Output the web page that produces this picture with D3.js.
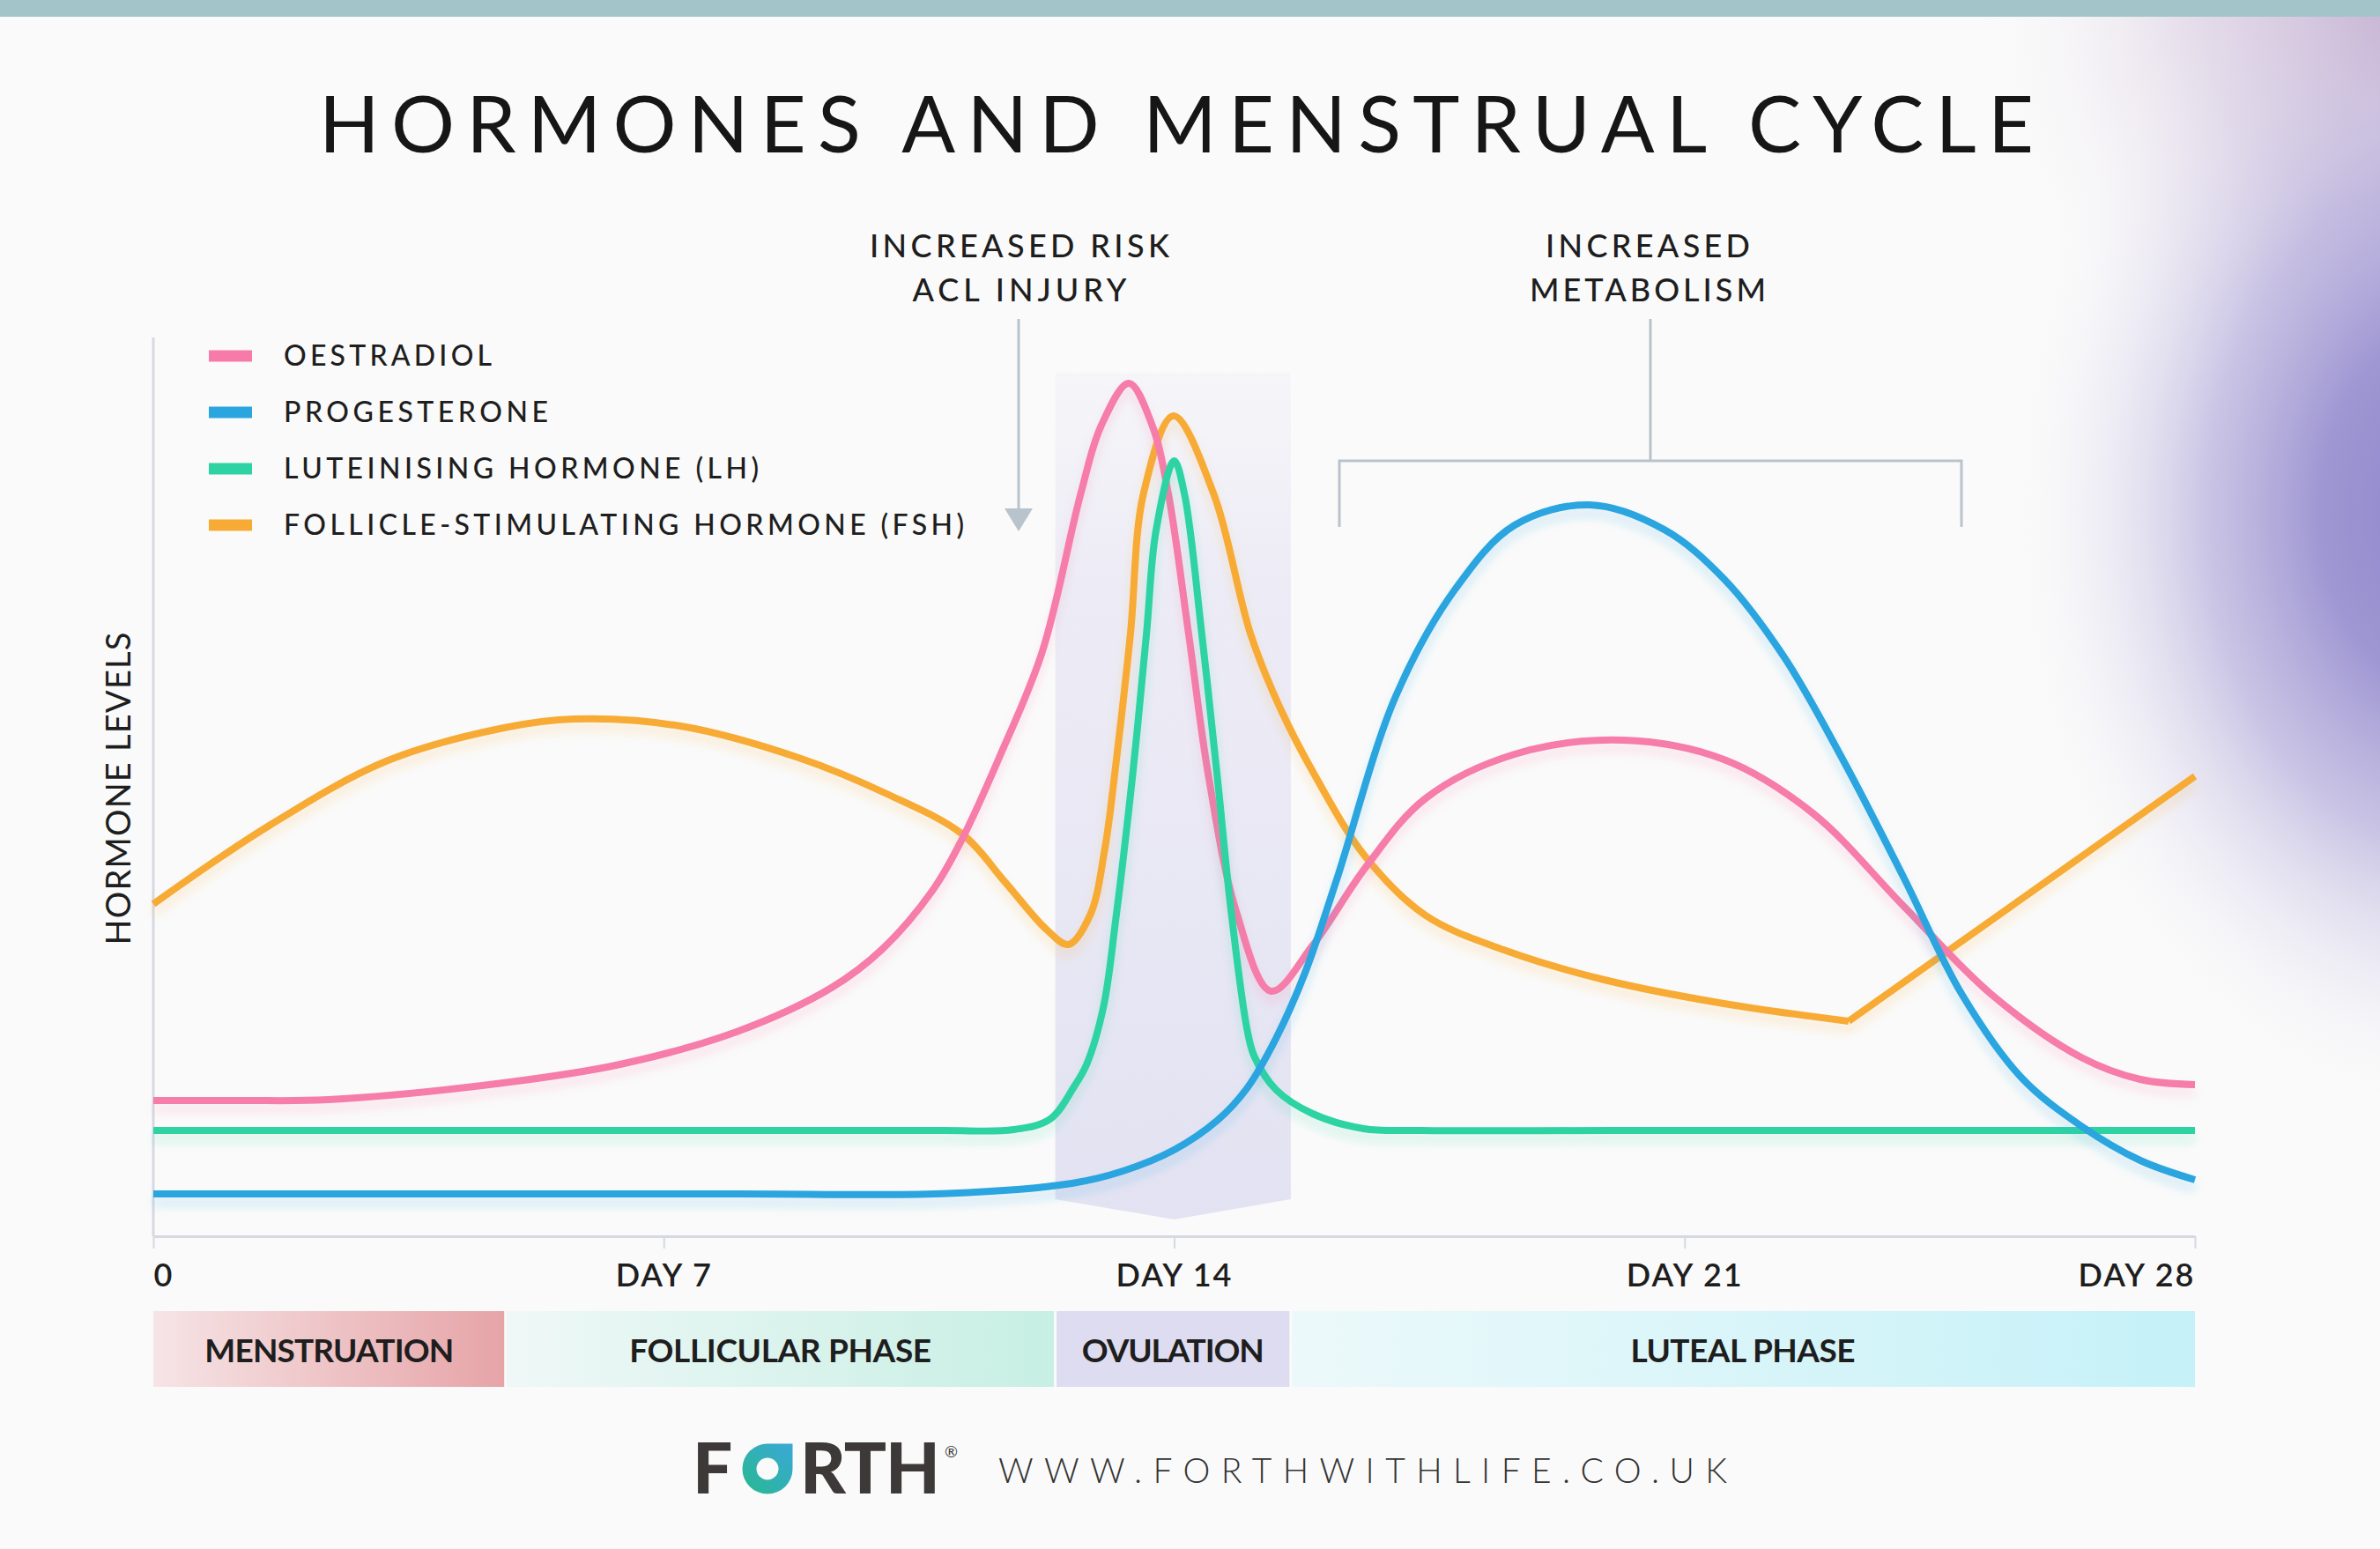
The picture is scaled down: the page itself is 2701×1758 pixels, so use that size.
<!DOCTYPE html>
<html>
<head>
<meta charset="utf-8">
<script src="https://cdn.jsdelivr.net/npm/d3@7"></script>
<style>
  html, body { margin: 0; padding: 0; background: #fafafa; }
  svg { display: block; font-family: Lato, "Open Sans", sans-serif; }
</style>
</head>
<body>
<script>
// hormone levels across a 28 day cycle (arbitrary units, 0-100)

var width = 2701;
var height = 1758;

var tickDays = [0, 7, 14, 21, 28];
var tickLabels = ['0', 'DAY 7', 'DAY 14', 'DAY 21', 'DAY 28'];

var hormones = ['OESTRADIOL', 'PROGESTERONE', 'LUTEINISING HORMONE (LH)', 'FOLLICLE-STIMULATING HORMONE (FSH)'];
var colors = ['#f67ba9', '#2aa5df', '#2ed3a3', '#f7ab35'];

// [day, level]
var oestradiol = [[0, 15.4], [1.2, 15.4], [2.4, 15.5], [4.8, 17.4], [6.4, 19.5], [8, 23.2], [9.3, 28.2],
  [10, 32.6], [10.7, 39.4], [11.1, 45.2], [11.6, 54.3], [12.19, 66.3], [12.72, 84.3], [13, 92],
  [13.38, 96.8], [13.7, 92], [13.92, 84.3], [14.2, 68.3], [14.47, 52.3], [14.85, 36.9], [15.33, 27.8],
  [15.9, 33], [16.63, 41.9], [17.45, 49.7], [18.67, 54.7], [20.15, 56.3], [21.54, 54.1], [22.76, 48],
  [24, 37.5], [25.2, 27.5], [26.44, 20.3], [27.25, 17.8], [28, 17.2]];

var progesterone = [[0, 4.8], [4, 4.8], [8, 4.8], [10.9, 4.85], [12.6, 6], [13.3, 7.4], [14, 9.8],
  [14.6, 13.2], [15, 16.8], [15.4, 22.5], [15.8, 30], [16.23, 40.5], [17.04, 61.3], [17.86, 73.5],
  [18.67, 80.7], [19.7, 83], [20.72, 80.2], [21.54, 74.6], [22.36, 65.8], [23.17, 54.1], [24, 40.8],
  [24.8, 27.5], [25.62, 18], [26.44, 12.5], [27.25, 8.6], [28, 6.4]];

var lh = [[0, 12], [4, 12], [8, 12], [10.8, 12], [11.8, 12.1], [12.3, 13.3], [12.63, 17], [12.8, 19.5],
  [13.03, 26], [13.2, 36], [13.43, 52.3], [13.62, 68.3], [13.75, 80], [14, 88], [14.14, 84.3],
  [14.38, 68.3], [14.59, 52.3], [14.78, 37], [15, 23.5], [15.1, 20.4], [15.4, 16.6], [15.9, 13.9],
  [16.6, 12.2], [17.4, 12], [20, 12], [24, 12], [28, 12]];

var fsh = [[0, 37.7], [1.57, 46.5], [3.19, 53.9], [4.81, 57.7], [5.77, 58.7], [7.23, 57.9], [8.85, 54.3],
  [10.06, 50.2], [11.1, 45.6], [11.68, 40.2], [12.25, 34.8], [12.55, 33.1], [12.85, 36.5], [13.05, 44],
  [13.2, 53.5], [13.4, 68.3], [13.58, 84.3], [13.99, 93.1], [14.54, 84.3], [15.05, 68.3], [15.45, 60],
  [15.93, 52.3], [16.63, 43], [17.45, 36.4], [18.52, 32.5], [19.9, 29.1], [21.54, 26.4], [23.25, 24.4],
  [28, 52.2]];
var fshKink = 27; // index of the sharp corner at day 23.25

var phaseNames = ['MENSTRUATION', 'FOLLICULAR PHASE', 'OVULATION', 'LUTEAL PHASE'];
var phaseStart = [0, 4.83, 12.37, 15.6];
var phaseEnd = [4.83, 12.37, 15.6, 28];
var phaseFrom = ['#f6e4e6', '#eff8f7', '#dedcf0', '#ecf9fa'];
var phaseTo = ['#e6a4a7', '#c7efe3', '#dedcf0', '#c5f1f8'];

var annotations = [['INCREASED RISK', 'ACL INJURY'], ['INCREASED', 'METABOLISM']];

var svg = d3.select('body')
  .append('svg')
  .attr('width', width)
  .attr('height', height);

var defs = svg.append('defs');

// purple glow on right edge
var glow = defs.append('radialGradient')
  .attr('id', 'glow')
  .attr('gradientUnits', 'userSpaceOnUse')
  .attr('cx', 2790).attr('cy', 580).attr('r', 520)
  .attr('gradientTransform', 'translate(2790,580) scale(1,1.35) translate(-2790,-580)');
[[0, '#8a82ca', 1], [0.3, '#978ecf', 0.92], [0.55, '#b3abdb', 0.68], [0.8, '#dcd7ec', 0.3], [1, '#fafafa', 0]]
  .forEach(function(s) {
    glow.append('stop').attr('offset', s[0]).attr('stop-color', s[1]).attr('stop-opacity', s[2]);
  });

var glowTop = defs.append('radialGradient')
  .attr('id', 'glowTop')
  .attr('gradientUnits', 'userSpaceOnUse')
  .attr('cx', 2720).attr('cy', 20).attr('r', 480);
[[0, '#bea6cb', 1], [0.45, '#d3c4dd', 0.62], [1, '#fafafa', 0]].forEach(function(s) {
  glowTop.append('stop').attr('offset', s[0]).attr('stop-color', s[1]).attr('stop-opacity', s[2]);
});

svg.append('rect').attr('width', width).attr('height', height).attr('fill', '#fafafa');
svg.append('rect').attr('x', 2100).attr('width', 601).attr('height', 1300).attr('fill', 'url(#glowTop)');
svg.append('rect').attr('x', 2100).attr('width', 601).attr('height', 1400).attr('fill', 'url(#glow)');

// top bar
svg.append('rect').attr('width', width).attr('height', 19).attr('fill', '#a3c4c9');

// line shadow
var shadow = defs.append('filter')
  .attr('id', 'shadow')
  .attr('filterUnits', 'userSpaceOnUse')
  .attr('x', 0).attr('y', 0).attr('width', width).attr('height', height);
shadow.append('feGaussianBlur').attr('in', 'SourceGraphic').attr('stdDeviation', 6).attr('result', 'b');
shadow.append('feOffset').attr('in', 'b').attr('dy', 9).attr('result', 'o');
shadow.append('feComponentTransfer').attr('in', 'o').attr('result', 't')
  .append('feFuncA').attr('type', 'linear').attr('slope', 0.22);
var merge = shadow.append('feMerge');
merge.append('feMergeNode').attr('in', 't');
merge.append('feMergeNode').attr('in', 'SourceGraphic');

// title
svg.append('text')
  .attr('x', 1335)
  .attr('y', 173)
  .attr('text-anchor', 'middle')
  .attr('font-size', 90)
  .attr('fill', '#161616')
  .attr('textLength', 1946)
  .attr('lengthAdjust', 'spacing')
  .text('HORMONES AND MENSTRUAL CYCLE');

var x = d3.scaleLinear().domain([0, 28]).range([174, 2491]);
var y = d3.scaleLinear().domain([0, 100]).range([1403, 403]);

// ovulation window
var ovuGrad = defs.append('linearGradient')
  .attr('id', 'ovu').attr('x1', 0).attr('y1', 0).attr('x2', 0).attr('y2', 1);
ovuGrad.append('stop').attr('offset', 0).attr('stop-color', '#ecebf6').attr('stop-opacity', 0.3);
ovuGrad.append('stop').attr('offset', 0.25).attr('stop-color', '#ebeaf5').attr('stop-opacity', 0.9);
ovuGrad.append('stop').attr('offset', 1).attr('stop-color', '#e3e2f2').attr('stop-opacity', 1);

var ovuArea = [[phaseStart[2], 98], [phaseEnd[2], 98], [phaseEnd[2], 4.2], [14, 1.9], [phaseStart[2], 4.2]];
svg.append('path')
  .attr('d', d3.line().x(function(d) { return x(d[0]); }).y(function(d) { return y(d[1]); })(ovuArea) + 'Z')
  .attr('fill', 'url(#ovu)');

// axes
svg.append('line')
  .attr('x1', x(0)).attr('x2', x(0))
  .attr('y1', y(0)).attr('y2', y(102))
  .attr('stroke', '#d6d9e2').attr('stroke-width', 3);

var xAxis = svg.append('g')
  .attr('transform', 'translate(0,' + y(0) + ')')
  .call(d3.axisBottom(x)
    .tickValues(tickDays)
    .tickSize(14)
    .tickSizeOuter(0)
    .tickFormat(function(d, i) { return tickLabels[i]; }));

xAxis.select('.domain').attr('stroke', '#d6d9e2').attr('stroke-width', 3);
xAxis.selectAll('.tick line').attr('stroke', '#d6d9e2').attr('stroke-width', 2);
xAxis.selectAll('.tick text')
  .attr('y', 57)
  .attr('dy', 0)
  .attr('font-size', 36)
  .attr('font-family', 'Lato, sans-serif')
  .attr('font-weight', 600)
  .attr('fill', '#1e1e1e')
  .attr('letter-spacing', 2)
  .attr('text-anchor', function(d, i) {
    return i === 0 ? 'start' : (i === tickDays.length - 1 ? 'end' : 'middle');
  });

// y label
svg.append('text')
  .attr('transform', 'translate(148,895) rotate(-90)')
  .attr('text-anchor', 'middle')
  .attr('font-size', 38)
  .attr('fill', '#1e1e1e')
  .attr('textLength', 355)
  .attr('lengthAdjust', 'spacing')
  .text('HORMONE LEVELS');

// curves
var line = d3.line()
  .x(function(d) { return x(d[0]); })
  .y(function(d) { return y(d[1]); })
  .curve(d3.curveCatmullRom.alpha(0.5));

var straight = d3.line()
  .x(function(d) { return x(d[0]); })
  .y(function(d) { return y(d[1]); });

var curves = svg.append('g')
  .attr('fill', 'none')
  .attr('stroke-width', 8)
  .attr('stroke-linejoin', 'round');

curves.append('path').attr('d', line(fsh.slice(0, fshKink + 1))).attr('stroke', colors[3]).attr('filter', 'url(#shadow)');
curves.append('path').attr('d', straight(fsh.slice(fshKink))).attr('stroke', colors[3]).attr('filter', 'url(#shadow)');
curves.append('path').attr('d', line(oestradiol)).attr('stroke', colors[0]).attr('filter', 'url(#shadow)');
curves.append('path').attr('d', line(lh)).attr('stroke', colors[2]).attr('filter', 'url(#shadow)');
curves.append('path').attr('d', line(progesterone)).attr('stroke', colors[1]).attr('filter', 'url(#shadow)');

// legend
var legendWidths = [236, 300, 539, 772];
var legend = svg.selectAll('.legend')
  .data(hormones)
  .enter()
  .append('g')
  .attr('class', 'legend')
  .attr('transform', function(d, i) { return 'translate(237,' + (404 + i * 64) + ')'; });

legend.append('rect')
  .attr('y', -6.5)
  .attr('width', 49)
  .attr('height', 13)
  .attr('fill', function(d, i) { return colors[i]; });

legend.append('text')
  .attr('x', 85)
  .attr('y', 11)
  .attr('font-size', 32)
  .attr('font-weight', 500)
  .attr('fill', '#1e1e1e')
  .attr('textLength', function(d, i) { return legendWidths[i]; })
  .attr('lengthAdjust', 'spacing')
  .text(function(d) { return d; });

// annotations
var noteX = [1157, 1870];
var noteWidths = [[340, 243], [232, 268]];
annotations.forEach(function(lines, k) {
  lines.forEach(function(t, j) {
    svg.append('text')
      .attr('x', noteX[k])
      .attr('y', 292 + j * 50)
      .attr('text-anchor', 'middle')
      .attr('font-size', 36)
      .attr('font-weight', 500)
      .attr('fill', '#1e1e1e')
      .attr('textLength', noteWidths[k][j])
      .attr('lengthAdjust', 'spacing')
      .text(t);
  });
});

svg.append('line')
  .attr('x1', 1156).attr('x2', 1156)
  .attr('y1', 362).attr('y2', 580)
  .attr('stroke', '#b9c3cc').attr('stroke-width', 3);
svg.append('path')
  .attr('d', 'M1140,577L1172,577L1156,603Z')
  .attr('fill', '#b9c3cc');
svg.append('path')
  .attr('d', 'M1873,362V523M1520,598V523H2226V598')
  .attr('fill', 'none')
  .attr('stroke', '#b9c3cc').attr('stroke-width', 3);

// phase bar
phaseNames.forEach(function(name, i) {
  var g = defs.append('linearGradient').attr('id', 'phase' + i);
  g.append('stop').attr('offset', 0).attr('stop-color', phaseFrom[i]);
  g.append('stop').attr('offset', 1).attr('stop-color', phaseTo[i]);
});

var phaseWidths = [283, 343, 207, 255];
var phases = svg.selectAll('.phase')
  .data(phaseNames)
  .enter()
  .append('g')
  .attr('class', 'phase');

phases.append('rect')
  .attr('x', function(d, i) { return x(phaseStart[i]) + (i > 0 ? 1.5 : 0); })
  .attr('y', 1488)
  .attr('width', function(d, i) { return x(phaseEnd[i]) - x(phaseStart[i]) - (i > 0 ? 1.5 : 0) - (i < 3 ? 1.5 : 0); })
  .attr('height', 86)
  .attr('fill', function(d, i) { return 'url(#phase' + i + ')'; });

phases.append('text')
  .attr('x', function(d, i) { return (x(phaseStart[i]) + x(phaseEnd[i])) / 2; })
  .attr('y', 1546)
  .attr('text-anchor', 'middle')
  .attr('font-size', 37)
  .attr('font-weight', 700)
  .attr('fill', '#1e1e1e')
  .attr('textLength', function(d, i) { return phaseWidths[i]; })
  .attr('lengthAdjust', 'spacing')
  .text(function(d) { return d; });

// footer logo
var logoGrad = defs.append('linearGradient')
  .attr('id', 'logo').attr('x1', 1).attr('y1', 0).attr('x2', 0).attr('y2', 1);
logoGrad.append('stop').attr('offset', 0).attr('stop-color', '#3aa8d8');
logoGrad.append('stop').attr('offset', 1).attr('stop-color', '#28b98f');

svg.append('text')
  .attr('x', 786).attr('y', 1695)
  .attr('font-size', 80).attr('font-weight', 900)
  .attr('fill', '#3d3938')
  .text('F');

var cx = 871, cy = 1667, r = 28.5, ri = 12.5;
svg.append('path')
  .attr('d', 'M' + cx + ',' + (cy - r) + 'H' + (cx + r) + 'V' + cy +
    'A' + r + ',' + r + ' 0 1 1 ' + cx + ',' + (cy - r) + 'Z' +
    'M' + (cx + ri) + ',' + cy + 'A' + ri + ',' + ri + ' 0 1 0 ' + (cx - ri) + ',' + cy +
    'A' + ri + ',' + ri + ' 0 1 0 ' + (cx + ri) + ',' + cy + 'Z')
  .attr('fill', 'url(#logo)')
  .attr('fill-rule', 'evenodd');

svg.append('text')
  .attr('x', 908).attr('y', 1695)
  .attr('font-size', 80).attr('font-weight', 900)
  .attr('fill', '#3d3938')
  .attr('textLength', 159)
  .attr('lengthAdjust', 'spacing')
  .text('RTH');

svg.append('text')
  .attr('x', 1072).attr('y', 1654)
  .attr('font-size', 18)
  .attr('fill', '#3d3938')
  .text('®');

svg.append('text')
  .attr('x', 1133).attr('y', 1683)
  .attr('font-size', 39)
  .attr('font-weight', 300)
  .attr('fill', '#333')
  .attr('textLength', 827)
  .attr('lengthAdjust', 'spacing')
  .text('WWW.FORTHWITHLIFE.CO.UK');
</script>
</body>
</html>
